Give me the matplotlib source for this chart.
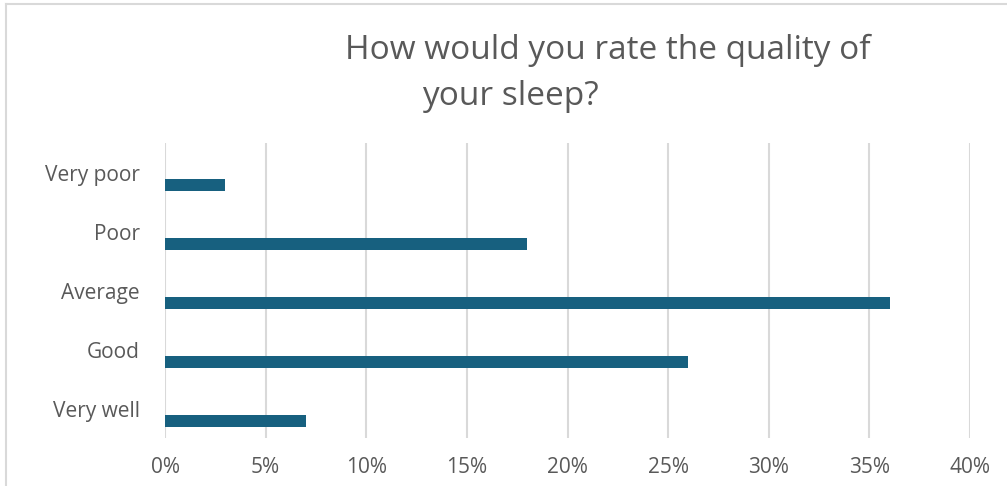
import matplotlib
matplotlib.use("Agg")
import matplotlib.pyplot as plt
from matplotlib.lines import Line2D
from matplotlib.ticker import FuncFormatter

categories = ["Very poor", "Poor", "Average", "Good", "Very well"]
shares = [3, 18, 36, 26, 7]  # percent of respondents
x_ticks = [0, 5, 10, 15, 20, 25, 30, 35, 40]

bar_color = "#17607F"
grid_color = "#D9D9D9"
text_color = "#595959"

plt.rcParams["font.family"] = ["Open Sans", "DejaVu Sans"]

fig = plt.figure(figsize=(10.07, 4.86), dpi=100)
ax = fig.add_axes([165 / 1007, 1 - 438 / 486, (970 - 165) / 1007, (438 - 143) / 486])

positions = [i + 0.21 for i in range(len(categories))]
ax.barh(positions, shares, height=0.2, color=bar_color, zorder=3)

ax.set_xlim(x_ticks[0], x_ticks[-1])
ax.set_ylim(len(categories) - 0.5, -0.5)
ax.set_xticks(x_ticks)
ax.xaxis.set_major_formatter(FuncFormatter(lambda v, p: f"{v:.0f}%"))
ax.set_yticks(range(len(categories)))
ax.set_yticklabels(categories)

ax.grid(axis="x", color=grid_color, linewidth=1.5, zorder=0)
for s in ax.spines.values():
    s.set_visible(False)
ax.tick_params(axis="both", length=0, colors=text_color, labelsize=15)
ax.tick_params(axis="y", pad=18)
ax.tick_params(axis="x", pad=14)

fig.text(607.5 / 1007, 1 - 59 / 486, "How would you rate the quality of",
         ha="center", va="baseline", fontsize=24, color=text_color)
fig.text(510 / 1007, 1 - 105 / 486, "your sleep?",
         ha="center", va="baseline", fontsize=24, color=text_color)

# light border along the top and left edges
fig.add_artist(Line2D([5.5 / 1007, 5.5 / 1007], [0, 1 - 4 / 486],
                      transform=fig.transFigure, color=grid_color, linewidth=1.5))
fig.add_artist(Line2D([5.5 / 1007, 1], [1 - 4 / 486, 1 - 4 / 486],
                      transform=fig.transFigure, color=grid_color, linewidth=1.5))

fig.savefig("out.png", dpi=100, facecolor="white")
